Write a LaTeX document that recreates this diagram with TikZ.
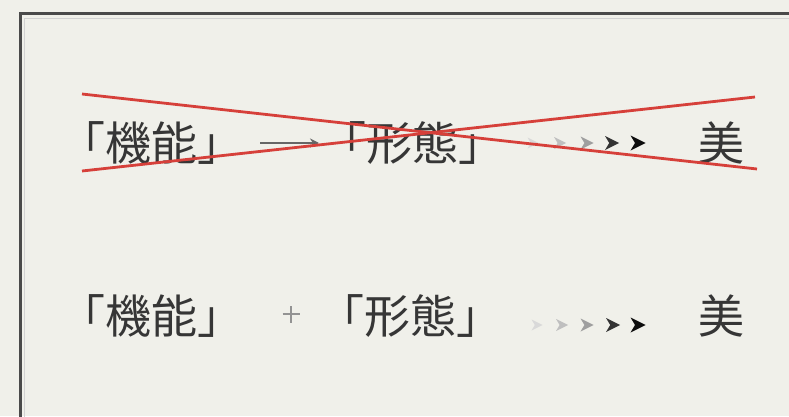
\documentclass[tikz,border=0pt]{standalone}
\usepackage{fontspec}
\newfontfamily\jp{Noto Sans CJK JP}
\usetikzlibrary{arrows.meta,calc}
\definecolor{bg}{HTML}{F0F0EA}
\definecolor{ink}{HTML}{363636}
\definecolor{crossred}{HTML}{D6403A}
\definecolor{frame}{HTML}{4A4A4A}
\tikzset{
  x=1pt,y=1pt,
  word/.style={font=\jp\fontsize{46}{46}\selectfont, text=ink, inner sep=0pt, anchor=center},
  chev/.style={fill=#1, draw=none},
  cross/.style={draw=crossred, line width=2.8pt},
  arrowline/.style={draw=gray!80!black, line width=1.6pt, -{Stealth[length=9pt,width=9pt,fill=ink]}},
  plus/.style={draw=gray!85, line width=2.6pt},
}
\newcommand{\chevron}[4]{% x, y, size, color
  \fill[chev=#4] (#1+#3*0.5,#2) -- (#1-#3*0.5,#2+#3*0.5) -- (#1-#3*0.2,#2) -- (#1-#3*0.5,#2-#3*0.5) -- cycle;}
\begin{document}
\begin{tikzpicture}
\useasboundingbox (0,0) rectangle (789,416);
\fill[bg] (0,0) rectangle (789,416);
\begin{scope}
\clip (0,0) rectangle (789,416);
\draw[frame, line width=3pt] (20,-20) -- (20,402) -- (810,402);
\draw[gray!35, line width=0.8pt] (24,-20) -- (24,398) -- (810,398);
\end{scope}
% row 1
\node[word] (k1) at (151,273) {「機能」};
\node[word] (f1) at (412,273) {「形態」};
\node[word] (b1) at (721,273) {美};
\coordinate (a1s) at (260,273);
\coordinate (a1e) at (319,273);
\draw[arrowline] (a1s) -- (a1e);
\chevron{533}{273}{11}{gray!30}
\chevron{560}{273}{12}{gray!50}
\chevron{587}{273}{13}{gray!75}
\chevron{612}{273}{14}{black!80}
\chevron{638}{273}{15}{black!95}
% row 2
\node[word] (k2) at (151,100) {「機能」};
\coordinate (pl) at (291,102);
\draw[plus] ($(pl)+(-8.5,0)$) -- ($(pl)+(8.5,0)$);
\draw[plus] ($(pl)+(0,-8.5)$) -- ($(pl)+(0,8.5)$);
\node[word] (f2) at (410,100) {「形態」};
\node[word] (b2) at (721,100) {美};
\chevron{537}{91}{11}{gray!30}
\chevron{562}{91}{12}{gray!50}
\chevron{587}{91}{13}{gray!75}
\chevron{613}{91}{14}{black!80}
\chevron{638}{91}{15}{black!95}
% crosses
\coordinate (c1s) at (82,322);
\coordinate (c1e) at (757,247);
\coordinate (c2s) at (82,245);
\coordinate (c2e) at (755,319);
\draw[cross] (c1s) -- (c1e);
\draw[cross] (c2s) -- (c2e);
\end{tikzpicture}
\end{document}
